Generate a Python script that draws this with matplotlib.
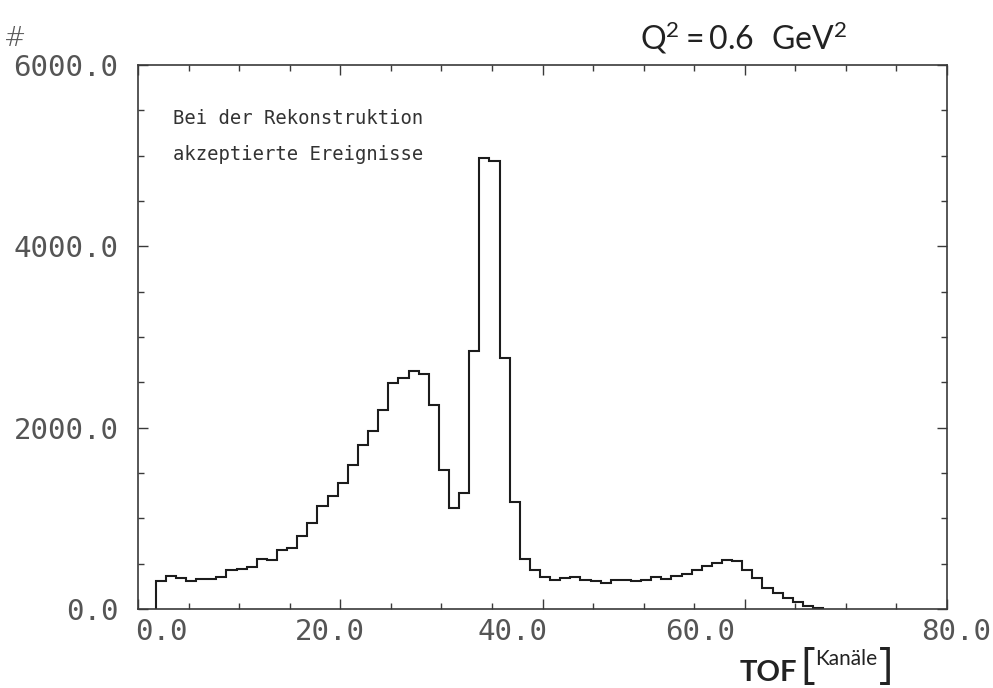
import matplotlib
matplotlib.use("Agg")
import matplotlib.pyplot as plt
import numpy as np

# TOF channel histogram: counts per channel, bins one channel wide
first_edge = 1.75
counts = [
    310, 365, 340, 312, 335, 335, 355, 430, 438, 460,
    550, 545, 650, 675, 810, 945, 1135, 1245, 1385, 1590,
    1810, 1965, 2200, 2490, 2545, 2630, 2595, 2250, 1535, 1110,
    1280, 2850, 4970, 4940, 2770, 1185, 555, 425, 355, 320,
    340, 350, 320, 305, 285, 325, 320, 310, 320, 350,
    335, 365, 385, 435, 475, 510, 535, 525, 425, 340,
    235, 180, 120, 75, 35, 12,
]
x_tick_values = [0, 20, 40, 60, 80]
x_tick_labels = ["0.0", "20.0", "40.0", "60.0", "80.0"]
y_tick_values = [0, 2000, 4000, 6000]
y_tick_labels = ["0.0", "2000.0", "4000.0", "6000.0"]
note_lines = ["Bei der Rekonstruktion", "akzeptierte Ereignisse"]

# horizontal nudges of the hand-placed x labels (data units)
x_label_shift = [2.3, -1.0, -3.0, -4.4, 0.9]

plt.rcParams["mathtext.fontset"] = "custom"
plt.rcParams["mathtext.rm"] = "Lato"
plt.rcParams["mathtext.it"] = "Lato"

W, H = 993, 688
fig = plt.figure(figsize=(W / 100, H / 100), dpi=100)
ax = fig.add_axes([138 / W, 1 - 609 / H, (947 - 138) / W, (609 - 65) / H])

edges = first_edge + np.arange(len(counts) + 1)
ax.stairs(counts, edges, baseline=0, color="#1c1c1c", linewidth=1.5)

ax.set_xlim(0, 80)
ax.set_ylim(0, 6000)

frame_color = "#3a3a3a"
for s in ax.spines.values():
    s.set_color(frame_color)
    s.set_linewidth(1.2)

label_color = "#555555"
ax.set_xticks(np.arange(0, 81, 20))
ax.set_xticks(np.arange(0, 81, 5), minor=True)
ax.set_xticklabels([])
ax.set_yticks(y_tick_values)
ax.set_yticks(np.arange(0, 6001, 500), minor=True)
ax.set_yticklabels(y_tick_labels, fontfamily="DejaVu Sans Mono",
                   fontsize=21, color=label_color)
ax.tick_params(which="both", direction="in", top=True, right=True,
               color=frame_color, width=1.0)
ax.tick_params(which="major", length=7, pad=14)
ax.tick_params(which="minor", length=4)

label_y = 1 - 632 / H
for v, lab, dx in zip(x_tick_values, x_tick_labels, x_label_shift):
    x_fig = fig.transFigure.inverted().transform(
        ax.transData.transform((v + dx, 0)))[0]
    ax.text(x_fig, label_y, lab, transform=fig.transFigure,
            ha="center", va="center", fontfamily="DejaVu Sans Mono",
            fontsize=21, color=label_color, clip_on=False)

# note inside the frame
for i, line in enumerate(note_lines):
    ax.text(173 / W, 1 - (118 + 37 * i) / H, line, transform=fig.transFigure,
            ha="left", va="center", fontfamily="DejaVu Sans Mono",
            fontsize=13.6, color="#333333")

# axis captions
fig.text(15 / W, 1 - 38 / H, "#", fontsize=19, color="#555555",
         ha="center", va="center", fontweight="light")
fig.text(640 / W, 1 - 38 / H, r"$\mathrm{Q^2 = 0.6\ \ GeV^2}$",
         fontsize=23, color="#222222", ha="left", va="center")
fig.text(740 / W, 1 - 673 / H, "TOF", fontfamily="Lato", fontweight="bold",
         fontsize=21, color="#222222", ha="left", va="center")
fig.text(800 / W, 1 - 667 / H, "[", fontfamily="Open Sans", fontsize=32,
         color="#222222", ha="left", va="center")
fig.text(815 / W, 1 - 659 / H, "Kanäle", fontfamily="Lato", fontsize=15,
         color="#222222", ha="left", va="center")
fig.text(879 / W, 1 - 667 / H, "]", fontfamily="Open Sans", fontsize=32,
         color="#222222", ha="left", va="center")

fig.savefig("out.png", dpi=100)
